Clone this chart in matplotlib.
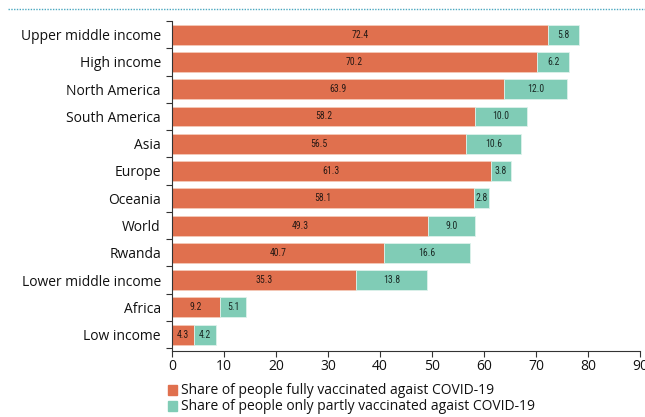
import matplotlib
matplotlib.use("Agg")
import matplotlib.pyplot as plt
from matplotlib.lines import Line2D
from matplotlib import font_manager
import numpy as np

regions = ["Upper middle income", "High income", "North America", "South America",
           "Asia", "Europe", "Oceania", "World", "Rwanda", "Lower middle income",
           "Africa", "Low income"]
fully = [72.4, 70.2, 63.9, 58.2, 56.5, 61.3, 58.1, 49.3, 40.7, 35.3, 9.2, 4.3]
partly = [5.8, 6.2, 12.0, 10.0, 10.6, 3.8, 2.8, 9.0, 16.6, 13.8, 5.1, 4.2]
xticks = [0, 10, 20, 30, 40, 50, 60, 70, 80, 90]

c_full = "#E0704E"
c_part = "#80CCB6"

plt.rcParams["font.family"] = ["Open Sans", "DejaVu Sans"]

# pick a narrow face for the in-bar values if one is installed
installed = {f.name for f in font_manager.fontManager.ttflist}
lab_font = [n for n in ("Liberation Sans Narrow", "DejaVu Sans Condensed", "Roboto Condensed")
            if n in installed] + ["Roboto", "DejaVu Sans"]

fig = plt.figure(figsize=(6.45, 4.17), dpi=100)
ax = fig.add_axes([172 / 645, 1 - 351 / 417, (640 - 172) / 645, (351 - 21) / 417])

y = np.arange(len(regions))
h = 0.73
ax.barh(y, fully, height=h, color=c_full, edgecolor="#F4C9B8", linewidth=0.6)
ax.barh(y, partly, left=fully, height=h, color=c_part, edgecolor="#DDF2EB", linewidth=0.6)

for yi, f, p in zip(y, fully, partly):
    ax.text(f / 2, yi, f"{f:.1f}", ha="center", va="center", fontsize=7,
            color="#2a1a15", family=lab_font)
    ax.text(f + p / 2, yi, f"{p:.1f}", ha="center", va="center", fontsize=7,
            color="#1a2a25", family=lab_font)

ax.set_xlim(0, 90)
ax.set_ylim(len(regions) - 0.5 + 0.1, -0.5)
ax.set_xticks(xticks)
ax.set_xticklabels([str(t) for t in xticks], fontsize=10, color="#111111")
ax.set_yticks(y)
ax.set_yticklabels(regions, fontsize=10, color="#111111")
ax.tick_params(axis="y", length=0, pad=8)
ax.set_yticks(np.arange(len(regions) + 1) - 0.5, minor=True)
ax.tick_params(axis="y", which="minor", length=4, width=0.8, color="#333333")
ax.tick_params(axis="x", length=4, width=0.8, color="#333333", pad=2)
for s in ("top", "right"):
    ax.spines[s].set_visible(False)
for s in ("left", "bottom"):
    ax.spines[s].set_color("#333333")
    ax.spines[s].set_linewidth(0.8)

# dotted rule under the heading
fig.add_artist(Line2D([8 / 645, 1.0], [1 - 9 / 417, 1 - 9 / 417], transform=fig.transFigure,
                      color="#4AA8C0", linewidth=1.0, linestyle=(0, (1, 1))))

# legend
for i, (col, lab) in enumerate([(c_full, "Share of people fully vaccinated agaist COVID-19"),
                                (c_part, "Share of people only partly vaccinated agaist COVID-19")]):
    yy = 1 - (390 + 16 * i) / 417
    fig.patches.append(plt.Rectangle((168 / 645, yy - 5 / 417), 9 / 645, 10 / 417,
                                     transform=fig.transFigure, color=col))
    fig.text(181 / 645, yy, lab, fontsize=10, va="center", ha="left", color="#111111")

fig.savefig("out.png", dpi=100)
